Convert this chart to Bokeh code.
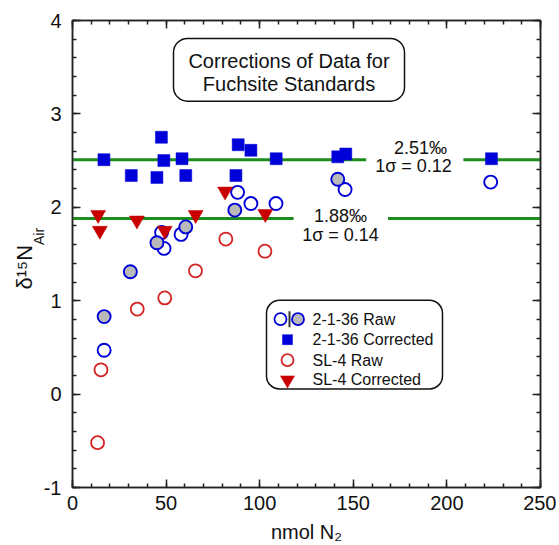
import numpy as np
from bokeh.plotting import figure
from bokeh.models import (Range1d, LinearAxis, BoxAnnotation, Label, FixedTicker,
                          CustomJSTickFormatter, Title)
from bokeh.embed import file_html
from bokeh.resources import INLINE

# ---------------- data ----------------
raw_2136_open_x = [16.9, 47.6, 48.9, 58.0, 88.2, 95.3, 108.7, 145.6, 223.4]
raw_2136_open_y = [0.47, 1.73, 1.56, 1.71, 2.16, 2.04, 2.04, 2.19, 2.27]
raw_2136_gray_x = [16.9, 30.9, 45.1, 60.5, 86.7, 141.7]
raw_2136_gray_y = [0.83, 1.31, 1.62, 1.79, 1.97, 2.30]
corr_2136_x = [16.8, 31.4, 45.1, 47.5, 48.8, 58.5, 60.5, 87.3, 88.5, 95.3, 108.8, 141.7, 146.0, 223.8]
corr_2136_y = [2.51, 2.34, 2.32, 2.75, 2.50, 2.52, 2.34, 2.34, 2.67, 2.61, 2.52, 2.54, 2.57, 2.52]
raw_sl4_x = [13.4, 15.2, 34.6, 49.3, 65.7, 81.9, 102.8]
raw_sl4_y = [-0.52, 0.26, 0.91, 1.03, 1.32, 1.66, 1.53]
corr_sl4_x = [13.7, 14.6, 34.4, 49.3, 65.8, 81.5, 103.0]
corr_sl4_y = [1.92, 1.75, 1.86, 1.75, 1.92, 2.17, 1.93]

mean_values = [2.51, 1.88]
mean_sigma = [0.12, 0.14]
line_gap_start = [156.9, 118.1]
line_gap_end = [208.8, 168.5]

x_ticks = [0, 50, 100, 150, 200, 250]
y_ticks = [-1, 0, 1, 2, 3, 4]
title_lines = ["Corrections of Data for", "Fuchsite Standards"]
legend_labels = ["2-1-36 Raw", "2-1-36 Corrected", "SL-4 Raw", "SL-4 Corrected"]
x_label = "nmol N₂"
y_label_main = "δ¹⁵N"
y_label_sub = "Air"

# ---------------- layout helpers ----------------
W, H = 556, 545
FL, FR, FT, FB = 72, 540, 20, 489          # frame edges on canvas (= page)


def dx(px):
    return (px - FL) * 250.0 / (FR - FL)


def dy(py):
    return 4.0 - (py - FT) * 5.0 / (FB - FT)


FONT = "Liberation Sans"
INK = "#111111"
BLUE = "#0000d8"
RED_C = "#d42424"
RED_T = "#c80000"
GRAY = "#b9b9b9"
GREEN = "#1e8c1e"

p = figure(width=W, height=H, x_range=Range1d(0, 250), y_range=Range1d(-1, 4),
           output_backend="svg", toolbar_location=None,
           min_border_left=FL, min_border_right=W - FR,
           min_border_top=FT, min_border_bottom=H - FB)
p.xgrid.grid_line_color = None
p.ygrid.grid_line_color = None
p.outline_line_color = "#222222"
p.outline_line_width = 1.5
p.background_fill_color = "white"
p.border_fill_color = "white"

xt = FixedTicker(ticks=x_ticks, minor_ticks=list(range(0, 251, 10)))
yt = FixedTicker(ticks=y_ticks, minor_ticks=[round(v, 1) for v in np.arange(-1, 4.01, 0.2)])
plain_fmt = CustomJSTickFormatter(code="return tick.toString()")


def style_axis(ax, labels=True):
    ax.axis_line_color = "#222222"
    ax.axis_line_width = 1.5
    ax.major_tick_line_color = "#222222"
    ax.minor_tick_line_color = "#222222"
    ax.major_tick_line_width = 1.5
    ax.minor_tick_line_width = 1.5
    ax.major_tick_in = 8
    ax.major_tick_out = 0
    ax.minor_tick_in = 4
    ax.minor_tick_out = 0
    ax.major_label_text_font = FONT
    ax.major_label_text_font_size = "20px" if labels else "0px"
    ax.major_label_text_color = INK
    if labels:
        ax.formatter = plain_fmt
    else:
        ax.formatter = CustomJSTickFormatter(code="return ''")
        ax.major_label_standoff = 0


p.xaxis.ticker = xt
p.yaxis.ticker = yt
style_axis(p.xaxis[0])
style_axis(p.yaxis[0])
p.xaxis.major_label_standoff = 8
p.yaxis.major_label_standoff = 11

p.xaxis.axis_label = x_label
p.xaxis.axis_label_text_font = FONT
p.xaxis.axis_label_text_font_size = "20px"
p.xaxis.axis_label_text_font_style = "normal"
p.xaxis.axis_label_text_color = INK
p.xaxis.axis_label_standoff = 8

# y axis title: the subscript sits in the axis' own label slot (nearest the frame),
# padded with no-break spaces so it sits just above the main part
p.yaxis.axis_label = "\u00a0" * 9 + y_label_sub
p.yaxis.axis_label_text_font = FONT
p.yaxis.axis_label_text_font_size = "14px"
p.yaxis.axis_label_text_font_style = "normal"
p.yaxis.axis_label_text_color = INK
p.yaxis.axis_label_standoff = -6

top_ax = LinearAxis(ticker=xt)
right_ax = LinearAxis(ticker=yt)
style_axis(top_ax, labels=False)
style_axis(right_ax, labels=False)
p.add_layout(top_ax, "above")
p.add_layout(right_ax, "right")

p.add_layout(Title(text=y_label_main, align="left", offset=FB - 291, standoff=-18,
                   vertical_align="bottom", text_font=FONT, text_font_size="22px",
                   text_font_style="normal", text_color=INK), "left")

# ---------------- mean lines with gaps ----------------
x0s, x1s, ys = [], [], []
for m, gs, ge in zip(mean_values, line_gap_start, line_gap_end):
    x0s += [0, ge]
    x1s += [gs, 250]
    ys += [m, m]
p.segment(x0=x0s, y0=ys, x1=x1s, y1=ys, line_color=GREEN, line_width=3)

# ---------------- data points ----------------
p.scatter(raw_sl4_x, raw_sl4_y, marker="circle", size=13, fill_color=None,
          line_color=RED_C, line_width=1.8)
p.scatter(raw_2136_open_x, raw_2136_open_y, marker="circle", size=13, fill_color=None,
          line_color=BLUE, line_width=1.9)
p.scatter(raw_2136_gray_x, raw_2136_gray_y, marker="circle", size=13, fill_color=GRAY,
          line_color=BLUE, line_width=1.9)
p.scatter(corr_2136_x, corr_2136_y, marker="square", size=12, fill_color=BLUE,
          line_color=BLUE, line_width=0.5)
p.scatter(corr_sl4_x, corr_sl4_y, marker="inverted_triangle", size=15, fill_color=RED_T,
          line_color=RED_T, line_width=0.5)

# ---------------- mean annotations ----------------
ann_pos = [((420, 148), (413, 166)), ((340, 216), (340, 235))]
for m, s, ((ax1, ay1), (ax2, ay2)) in zip(mean_values, mean_sigma, ann_pos):
    p.add_layout(Label(x=dx(ax1), y=dy(ay1), text=f"{m:.2f}‰", text_align="center",
                       text_baseline="middle", text_font=FONT, text_font_size="18px",
                       text_color=INK))
    p.add_layout(Label(x=dx(ax2), y=dy(ay2), text=f"1σ = {s:.2f}", text_align="center",
                       text_baseline="middle", text_font=FONT, text_font_size="18px",
                       text_color=INK))

# ---------------- title box ----------------
p.add_layout(BoxAnnotation(left=dx(173), right=dx(404), top=dy(38), bottom=dy(101),
                           fill_color="white", fill_alpha=1.0, line_color=INK,
                           line_width=1.5, line_alpha=1.0, border_radius=14,
                           level="underlay"))
for t, py in zip(title_lines, [61, 84]):
    p.add_layout(Label(x=dx(288.5), y=dy(py), text=t, text_align="center",
                       text_baseline="middle", text_font=FONT, text_font_size="20px",
                       text_color=INK))

# ---------------- legend (drawn by hand) ----------------
p.add_layout(BoxAnnotation(left=dx(266), right=dx(442), top=dy(301), bottom=dy(390),
                           fill_color="white", fill_alpha=1.0, line_color=INK,
                           line_width=1.5, line_alpha=1.0, border_radius=13,
                           level="underlay"))
rows = [320, 340.5, 361, 381]
p.scatter([dx(280)], [dy(rows[0])], marker="circle", size=12, fill_color=None,
          line_color=BLUE, line_width=1.8)
p.segment(x0=[dx(289)], y0=[dy(rows[0] - 8)], x1=[dx(289)], y1=[dy(rows[0] + 8)],
          line_color="#333333", line_width=2)
p.scatter([dx(297.5)], [dy(rows[0])], marker="circle", size=12, fill_color=GRAY,
          line_color=BLUE, line_width=1.8)
p.scatter([dx(287)], [dy(rows[1])], marker="square", size=10, fill_color=BLUE,
          line_color=BLUE, line_width=0.5)
p.scatter([dx(287)], [dy(rows[2])], marker="circle", size=12, fill_color=None,
          line_color=RED_C, line_width=1.8)
p.scatter([dx(287)], [dy(rows[3])], marker="inverted_triangle", size=14, fill_color=RED_T,
          line_color=RED_T, line_width=0.5)
for lab, py in zip(legend_labels, rows):
    p.add_layout(Label(x=dx(312), y=dy(py), text=lab, text_align="left",
                       text_baseline="middle", text_font=FONT, text_font_size="16px",
                       text_color=INK))

open("out.html", "w").write(file_html(p, INLINE))
